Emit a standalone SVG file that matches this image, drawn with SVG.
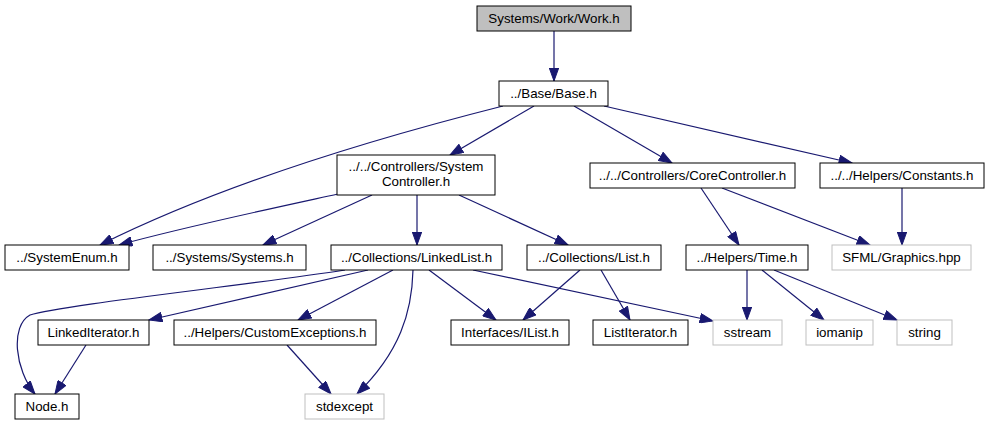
<svg xmlns="http://www.w3.org/2000/svg" width="989" height="425" viewBox="0 0 989 425">
<style>
.n rect{fill:#ffffff;stroke:#000000;stroke-width:1}
.n.root rect{fill:#bfbfbf}
.n.ext rect{stroke:#bfbfbf}
.n text{font-family:"Liberation Sans",Arial,sans-serif;font-size:13.33px;fill:#000000;text-anchor:middle}
#edges path{fill:none;stroke:#191970;stroke-width:1.2;marker-end:url(#arr)}
</style>
<defs>
<marker id="arr" markerUnits="userSpaceOnUse" markerWidth="14" markerHeight="10" viewBox="0 0 13 10" refX="13" refY="5" orient="auto">
<path d="M0,0.3 L13,5 L0,9.7 z" fill="#191970" stroke="#191970" stroke-width="1"/>
</marker>
</defs>
<rect width="989" height="425" fill="#ffffff"/>
<g id="edges">
<path d="M554,31 L554,81"/>
<path d="M503,106 C420,127 240,175 100,245"/>
<path d="M534,106 L450,155"/>
<path d="M574,106 L672,163"/>
<path d="M604,106 L852,163"/>
<path d="M338,194 C260,211 180,228 119,245"/>
<path d="M372,195 L263,245"/>
<path d="M417,195 L417,245"/>
<path d="M459,195 L568,245"/>
<path d="M701,188 L739,245"/>
<path d="M722,188 L870,245"/>
<path d="M902,188 L902,245"/>
<path d="M345,270 C250,285 60,305 30,315 C10,326 15,370 35,394"/>
<path d="M368,270 L149,320"/>
<path d="M393,270 L298,320"/>
<path d="M413,270 C412,312 400,352 357,394"/>
<path d="M429,270 L496,320"/>
<path d="M473,270 L713,321"/>
<path d="M580,270 L523,320"/>
<path d="M601,270 L630,320"/>
<path d="M747,270 L747,320"/>
<path d="M762,270 L824,320"/>
<path d="M774,270 L897,320"/>
<path d="M86,345 L55,394"/>
<path d="M287,345 L331,394"/>
</g>
<g id="work" class="n root"><rect x="477" y="6" width="154" height="25"/><text x="554" y="23">Systems/Work/Work.h</text></g>
<g id="base" class="n"><rect x="499" y="81" width="109" height="25"/><text x="553.5" y="98">../Base/Base.h</text></g>
<g id="systemcontroller" class="n"><rect x="337" y="155" width="158" height="40"/><text x="416" y="171">../../Controllers/System</text><text x="416" y="186">Controller.h</text></g>
<g id="corecontroller" class="n"><rect x="590" y="163" width="205" height="25"/><text x="692.5" y="180">../../Controllers/CoreController.h</text></g>
<g id="constants" class="n"><rect x="820" y="163" width="164" height="25"/><text x="902" y="180">../../Helpers/Constants.h</text></g>
<g id="systemenum" class="n"><rect x="5" y="245" width="124" height="25"/><text x="67" y="262">../SystemEnum.h</text></g>
<g id="systems" class="n"><rect x="153" y="245" width="153" height="25"/><text x="229.5" y="262">../Systems/Systems.h</text></g>
<g id="linkedlist" class="n"><rect x="331" y="245" width="171" height="25"/><text x="416.5" y="262">../Collections/LinkedList.h</text></g>
<g id="list" class="n"><rect x="527" y="245" width="134" height="25"/><text x="594" y="262">../Collections/List.h</text></g>
<g id="time" class="n"><rect x="686" y="245" width="122" height="25"/><text x="747" y="262">../Helpers/Time.h</text></g>
<g id="sfml" class="n ext"><rect x="832" y="245" width="139" height="25"/><text x="901.5" y="262">SFML/Graphics.hpp</text></g>
<g id="linkediterator" class="n"><rect x="38" y="320" width="111" height="25"/><text x="93.5" y="337">LinkedIterator.h</text></g>
<g id="customexceptions" class="n"><rect x="174" y="320" width="202" height="25"/><text x="275" y="337">../Helpers/CustomExceptions.h</text></g>
<g id="ilist" class="n"><rect x="451" y="320" width="118" height="25"/><text x="510" y="337">Interfaces/IList.h</text></g>
<g id="listiterator" class="n"><rect x="593" y="320" width="95" height="25"/><text x="640.5" y="337">ListIterator.h</text></g>
<g id="sstream" class="n ext"><rect x="713" y="320" width="69" height="25"/><text x="747.5" y="337">sstream</text></g>
<g id="iomanip" class="n ext"><rect x="806" y="320" width="67" height="25"/><text x="839.5" y="337">iomanip</text></g>
<g id="string" class="n ext"><rect x="897" y="320" width="55" height="25"/><text x="924.5" y="337">string</text></g>
<g id="node" class="n"><rect x="15" y="394" width="64" height="25"/><text x="47" y="411">Node.h</text></g>
<g id="stdexcept" class="n ext"><rect x="305" y="394" width="79" height="25"/><text x="344.5" y="411">stdexcept</text></g>
</svg>
